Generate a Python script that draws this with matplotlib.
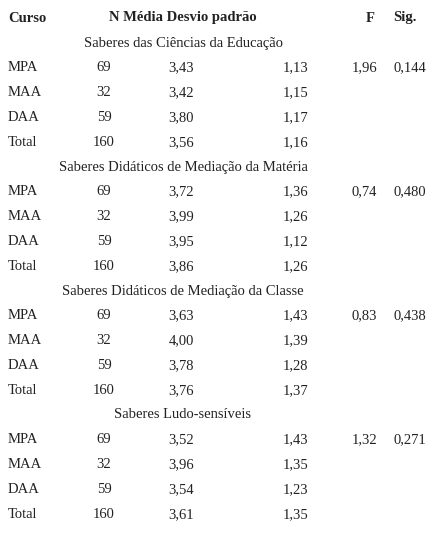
import matplotlib
matplotlib.use("Agg")
import matplotlib.pyplot as plt

sections = ["Saberes das Ciências da Educação", "Saberes Didáticos de Mediação da Matéria",
            "Saberes Didáticos de Mediação da Classe", "Saberes Ludo-sensíveis"]
cursos = ["MPA", "MAA", "DAA", "Total"]
n_vals = [69, 32, 59, 160]
medias = [[3.43, 3.42, 3.80, 3.56], [3.72, 3.99, 3.95, 3.86],
          [3.63, 4.00, 3.78, 3.76], [3.52, 3.96, 3.54, 3.61]]
desvios = [[1.13, 1.15, 1.17, 1.16], [1.36, 1.26, 1.12, 1.26],
           [1.43, 1.39, 1.28, 1.37], [1.43, 1.35, 1.23, 1.35]]
f_vals = [1.96, 0.74, 0.83, 1.32]
sig_vals = [0.144, 0.480, 0.438, 0.271]

W, H = 434, 533
fig = plt.figure(figsize=(W/100, H/100), dpi=100)
fam = ["Liberation Serif", "DejaVu Serif"]
fs = 10.5
def t(x, y, s, ha="left", bold=False):
    fig.text(x/W, 1 - y/H, s, ha=ha, va="center", fontsize=fs, family=fam,
             fontweight="bold" if bold else "normal", color="#222222")
def c(v, d=2):
    return f"{v:.{d}f}".replace(".", ",")

t(8, 18, "Curso", bold=True)
t(183, 18, "N Média Desvio padrão", ha="center", bold=True)
t(370, 18, "F", ha="center", bold=True)
t(405, 18, "Sig.", ha="center", bold=True)

y = 43
for i, sec in enumerate(sections):
    t(183, y, sec, ha="center")
    y += 24.8
    for j, cur in enumerate(cursos):
        t(8, y, cur)
        t(104, y, str(n_vals[j]), ha="center")
        t(181, y, c(medias[i][j]), ha="center")
        t(308, y, c(desvios[i][j]), ha="right")
        if j == 0:
            t(377, y, c(f_vals[i]), ha="right")
            t(426, y, c(sig_vals[i], 3), ha="right")
        y += 25
    y -= 0.8
fig.savefig("out.png", dpi=100, facecolor="white")
